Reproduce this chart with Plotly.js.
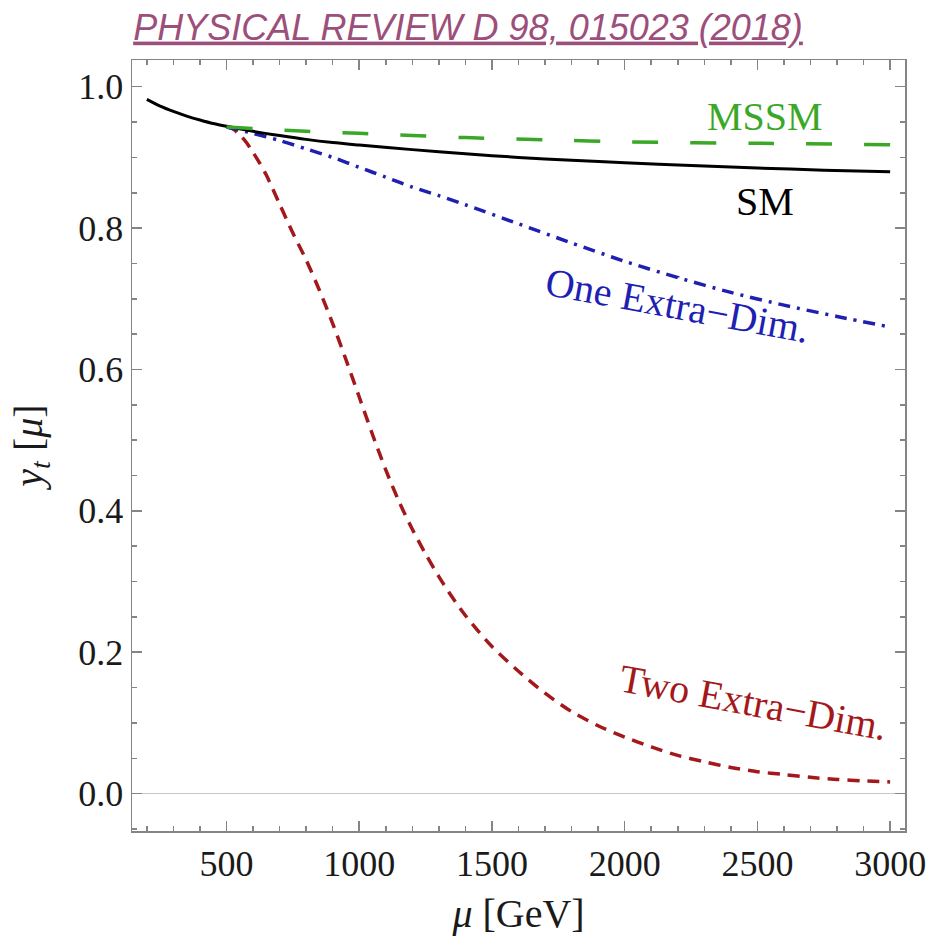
<!DOCTYPE html>
<html><head><meta charset="utf-8">
<script src="https://cdn.plot.ly/plotly-3.0.1.min.js"></script>
<style>html,body{margin:0;padding:0;background:#fff}#chart{width:928px;height:936px}</style>
</head><body><div id="chart"></div>
<script>
// Top-quark Yukawa coupling running y_t(mu)
const muSM   = [200,250,300,350,400,450,500,600,700,800,900,1000,1200,1400,1600,1800,2000,2250,2500,2750,3000];
const ytSM   = [0.982,0.9725,0.965,0.9585,0.953,0.948,0.944,0.937,0.931,0.9255,0.921,0.9175,0.911,0.905,0.900,0.896,0.8925,0.8885,0.885,0.882,0.8797];

const muMSSM = [500,600,800,1000,1200,1400,1700,2000,2500,3000];
const ytMSSM = [0.943,0.941,0.937,0.934,0.931,0.928,0.925,0.922,0.920,0.918];

const muOne  = [500,600,700,800,900,1000,1100,1200,1300,1400,1600,1800,2000,2200,2400,2600,2800,3000];
const ytOne  = [0.943,0.934,0.924,0.912,0.900,0.886,0.872,0.858,0.846,0.833,0.806,0.779,0.753,0.730,0.709,0.691,0.675,0.660];

const muTwo  = [500,525,550,575,600,625,650,700,750,800,850,900,950,1000,1050,1100,1150,1200,1250,1300,1350,1400,1450,1500,1600,1700,1800,1900,2000,2100,2200,2300,2400,2500,2600,2700,2800,2900,3000];
const ytTwo  = [0.944,0.940,0.932,0.921,0.907,0.892,0.875,0.834,0.793,0.755,0.712,0.665,0.614,0.561,0.508,0.458,0.413,0.374,0.339,0.307,0.278,0.252,0.229,0.208,0.173,0.142,0.116,0.096,0.080,0.066,0.054,0.045,0.037,0.031,0.027,0.023,0.020,0.018,0.0165];

const labels = ['MSSM','SM','One Extra\u2212Dim.','Two Extra\u2212Dim.'];

const serif = 'Liberation Serif, Times New Roman, serif';
const frame = '#858585';

const traces = [
  {x: muTwo, y: ytTwo, mode:'lines', line:{color:'#a3191b', width:3.5, dash:'12px,8px', shape:'spline', smoothing:0.8}},
  {x: muOne, y: ytOne, mode:'lines', line:{color:'#1f1fb4', width:3.5, dash:'12px,7px,3px,7px', shape:'spline', smoothing:0.8}},
  {x: muSM, y: ytSM, mode:'lines', line:{color:'#000000', width:3, shape:'spline', smoothing:0.8}},
  {x: muMSSM, y: ytMSSM, mode:'lines', line:{color:'#3aa826', width:3.5, dash:'26px,32px', shape:'spline', smoothing:0.8}}
];

const axisCommon = {
  showline:true, mirror:'ticks', linecolor:frame, linewidth:1.5,
  ticks:'inside', ticklen:10, tickwidth:1.5, tickcolor:frame,
  showgrid:false,
  tickfont:{family:serif, size:36, color:'#1a1a1a'}
};

const layout = {
  width:928, height:936,
  paper_bgcolor:'#ffffff', plot_bgcolor:'#ffffff',
  margin:{l:132, r:23, t:60, b:105},
  showlegend:false,
  title:{text:'PHYSICAL REVIEW D 98, 015023 (2018)',
         font:{family:'Liberation Sans, Arial, sans-serif', size:36, color:'#9c4f7a', style:'italic', lineposition:'under'},
         x:468/928, xanchor:'center', xref:'container', y:1-27/936, yanchor:'middle', yref:'container'},
  xaxis: Object.assign({}, axisCommon, {
    range:[144,3056], tickmode:'linear', tick0:0, dtick:500, zeroline:false,
    minor:{tick0:0, dtick:100, ticks:'inside', ticklen:5, tickwidth:1.5, tickcolor:frame},
    title:{text:'<i>\u03bc</i> [GeV]', font:{family:serif, size:40, color:'#1a1a1a'}}
  }),
  yaxis: Object.assign({}, axisCommon, {
    range:[-0.0529,1.0378], tickmode:'linear', tick0:0, dtick:0.2, tickformat:'.1f',
    zeroline:true, zerolinecolor:'#c8c8c8', zerolinewidth:1.5,
    minor:{tick0:0, dtick:0.05, ticks:'inside', ticklen:5, tickwidth:1.5, tickcolor:frame},
    title:{text:'<i>y<sub>t</sub></i> [<i>\u03bc</i>]', font:{family:serif, size:40, color:'#1a1a1a'}}
  }),
  annotations:[
    {x:2530, y:0.9576, text:labels[0], showarrow:false, font:{family:serif, size:40, color:'#3aa826'}},
    {x:2530, y:0.837, text:labels[1], showarrow:false, font:{family:serif, size:40, color:'#000000'}},
    {x:2200, y:0.690, text:labels[2], showarrow:false, textangle:10.5, font:{family:serif, size:40, color:'#1f1fb4'}},
    {x:2485, y:0.129, text:labels[3], showarrow:false, textangle:10.5, font:{family:serif, size:40, color:'#a3191b'}}
  ]
};

Plotly.newPlot('chart', traces, layout, {displayModeBar:false, staticPlot:true});
</script>
</body></html>
